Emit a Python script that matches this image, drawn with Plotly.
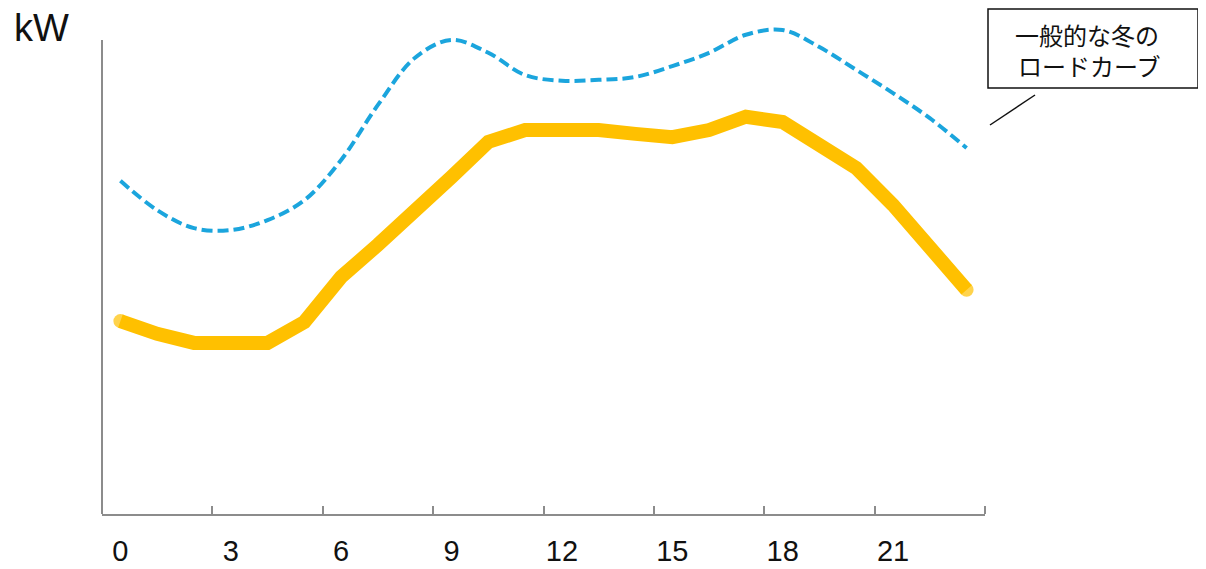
import plotly.graph_objects as go

hours = list(range(24))
tick_hours = [0, 3, 6, 9, 12, 15, 18, 21]
tick_labels = ["0", "3", "6", "9", "12", "15", "18", "21"]

# This house's load (kW, relative units)
own_load = [40.7, 38.0, 36.1, 36.1, 36.1, 40.5, 50.0, 56.8, 63.5, 71.1, 78.5, 81.0,
            81.0, 81.0, 80.2, 79.5, 81.0, 83.8, 82.7, 77.8, 73.0, 65.2, 56.1, 47.3]
# Typical winter load curve
winter_load = [70.3, 64.1, 60.3, 59.9, 62.0, 66.2, 74.7, 86.3, 96.2, 100.0, 97.3, 92.6,
               91.4, 91.6, 92.2, 94.5, 97.3, 101.1, 102.1, 98.5, 93.7, 88.8, 83.5, 77.2]

y_axis_top = 100.0

# page layout (the html body adds an 8px margin at the top-left)
OFF = 8
PAGE_W, PAGE_H = 1206, 569
W, H = PAGE_W - OFF, PAGE_H - OFF
PLOT_LEFT, PLOT_RIGHT, PLOT_TOP, PLOT_BOTTOM = 102, 985, 20, 514  # page pixels
L = PLOT_LEFT - OFF
T = PLOT_TOP - OFF
R = W - (PLOT_RIGHT - OFF)
B = H - (PLOT_BOTTOM - OFF)
plot_w = PLOT_RIGHT - PLOT_LEFT
plot_h = PLOT_BOTTOM - PLOT_TOP


def px(x):
    return (x - PLOT_LEFT) / plot_w


def py(y):
    return (PLOT_BOTTOM - y) / plot_h


# round caps for the thick line: markers only at the two ends
cap_sizes = [14 if i in (0, len(own_load) - 1) else 0 for i in range(len(own_load))]

fig = go.Figure()
fig.add_trace(go.Scatter(
    x=hours, y=winter_load, mode="lines",
    line=dict(color="#1BA5DD", width=4, dash="11px,5px", shape="spline", smoothing=1.0),
    hoverinfo="skip", showlegend=False))
fig.add_trace(go.Scatter(
    x=hours, y=own_load, mode="lines+markers",
    line=dict(color="#FFC000", width=14),
    marker=dict(color="#FFC000", size=cap_sizes, line=dict(width=0)),
    hoverinfo="skip", showlegend=False))

axis_color = "#8C8C8C"
text_color = "#111111"
fig.update_layout(
    template="none",
    width=W, height=H,
    margin=dict(l=L, r=R, t=T, b=B, autoexpand=False),
    paper_bgcolor="white", plot_bgcolor="white",
    font=dict(family="Arial, Liberation Sans, sans-serif", color=text_color),
    xaxis=dict(
        range=[-0.5, 23.5], showgrid=False, zeroline=False, automargin=False,
        showline=True, linecolor=axis_color, linewidth=2,
        tickmode="array", tickvals=tick_hours, ticktext=tick_labels,
        ticks="", tickfont=dict(size=29, color=text_color),
        ticklabelstandoff=10,
        minor=dict(ticks="inside", tick0=-0.5, dtick=3, ticklen=8,
                   tickcolor=axis_color, tickwidth=2, showgrid=False),
    ),
    yaxis=dict(
        range=[0, plot_h / ((PLOT_BOTTOM - 40) / y_axis_top)],
        showgrid=False, zeroline=False, showline=False, automargin=False,
        showticklabels=False, ticks="",
    ),
    shapes=[
        dict(type="line", xref="paper", yref="y", x0=0, x1=0, y0=0, y1=y_axis_top,
             line=dict(color=axis_color, width=2)),
        dict(type="line", xref="paper", yref="paper",
             x0=px(1035), y0=py(95), x1=px(990), y1=py(125),
             line=dict(color=text_color, width=1.5)),
        dict(type="rect", xref="paper", yref="paper",
             x0=px(988), y0=py(88), x1=px(1198), y1=py(9),
             line=dict(color=text_color, width=1.5), fillcolor="white"),
    ],
    annotations=[
        dict(text="kW", xref="paper", yref="paper",
             x=px(41), y=py(28),
             xanchor="center", yanchor="middle", showarrow=False,
             font=dict(size=38, color=text_color)),
        dict(text="一般的な冬の", xref="paper", yref="paper",
             x=px(1087), y=py(34), xanchor="center", yanchor="middle", showarrow=False,
             font=dict(size=24, color=text_color, family="Noto Sans CJK JP")),
        dict(text="ロードカーブ", xref="paper", yref="paper",
             x=px(1089), y=py(66), xanchor="center", yanchor="middle", showarrow=False,
             font=dict(size=24, color=text_color, family="Noto Sans CJK JP")),
    ],
)

fig.write_html("out.html")
